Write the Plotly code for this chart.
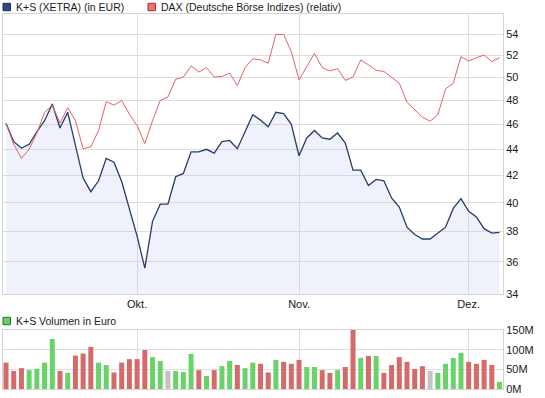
import plotly.graph_objects as go
import math

# ---- data ----
ks_price = [46.1, 44.6, 44.1, 44.4, 45.4, 46.3, 47.7, 45.7, 47.0, 44.2,
            41.8, 40.8, 41.6, 43.3, 43.0, 41.55, 39.6, 37.7, 35.6, 38.7,
            39.9, 39.9, 41.9, 42.15, 43.8, 43.8, 44.0, 43.7, 44.6, 44.7,
            44.05, 45.4, 46.8, 46.35, 45.8, 47.0, 46.9, 46.0, 43.5, 44.9,
            45.5, 44.9, 44.8, 45.3, 44.5, 42.4, 42.4, 41.25, 41.7, 41.6,
            40.35, 39.7, 38.3, 37.8, 37.5, 37.5, 37.9, 38.3, 39.6, 40.3,
            39.4, 39.0, 38.2, 37.9, 37.95]

dax_rel = [46.1, 44.4, 43.3, 44.0, 45.3, 47.0, 47.6, 46.1, 47.4, 46.3,
           44.05, 44.2, 45.5, 47.9, 47.6, 48.0, 46.85, 45.9, 44.45, 46.3,
           48.0, 48.3, 49.85, 50.05, 51.05, 50.5, 50.9, 50.05, 50.1, 50.4,
           49.3, 50.9, 51.7, 51.6, 51.3, 54.0, 54.0, 52.35, 49.8, 51.0,
           52.2, 50.9, 50.6, 50.8, 49.75, 50.05, 51.6, 51.15, 50.65, 50.55,
           50.0, 49.5, 47.85, 47.2, 46.6, 46.25, 46.8, 49.0, 49.5, 51.9,
           51.5, 51.8, 52.05, 51.45, 51.8]

volume_m = [67, 46, 53, 48, 51, 67, 127, 46, 41, 85,
            90, 107, 67, 61, 42, 67, 76, 76, 99, 81,
            71, 46, 46, 43, 89, 48, 33, 48, 58, 71,
            61, 53, 67, 64, 42, 74, 69, 64, 74, 56,
            56, 48, 41, 48, 56, 150, 79, 84, 84, 41,
            61, 81, 69, 51, 58, 46, 41, 64, 79, 92,
            69, 64, 74, 61, 18]

# r = down day, g = up day, n = unchanged
volume_dir = list("rrrggggrgrrrggrrrrrggnggg" "rgrggrggrrg" "rrrggrrgrrgrgrrrrrrnggggrrrrg")

month_ticks = [17, 38, 60]
month_labels = ["Okt.", "Nov.", "Dez."]
price_ticks = [34, 36, 38, 40, 42, 44, 46, 48, 50, 52, 54]
price_range = (34, 56)
vol_ticks = [0, 50, 100, 150]
vol_labels = ["0M", "50M", "100M", "150M"]

days = list(range(len(ks_price)))

# ---- styles ----
W, H = 545, 398
ML, MR, MT, MB = 3, 42, 14, 9
PW, PH = W - ML - MR, H - MT - MB
FONT = "Liberation Sans"
GRID = "#dedede"
NAVY = "#253c6b"
RED = "#e06464"
BAR_COL = {"r": "#d46a6a", "g": "#6ad26a", "n": "#c2c2c2"}

def px_x(x):
    return (x - ML) / PW

def px_y(y):
    return (H - MB - y) / PH

top_dom = [px_y(294), 1.0]
bot_dom = [0.0, px_y(330)]
xr = [-0.39, 64.45]

fig = go.Figure()

# baseline for the area fill (bottom of axis)
fig.add_trace(go.Scatter(x=days, y=[price_range[0]] * len(days), mode="lines",
                         line=dict(width=0), hoverinfo="skip", showlegend=False,
                         xaxis="x", yaxis="y"))
fig.add_trace(go.Scatter(x=days, y=ks_price, mode="lines", fill="tonexty",
                         fillcolor="rgba(180,195,232,0.22)",
                         line=dict(color=NAVY, width=1.3), name="K+S (XETRA) (in EUR)",
                         showlegend=False, xaxis="x", yaxis="y"))
fig.add_trace(go.Scatter(x=days, y=dax_rel, mode="lines",
                         line=dict(color=RED, width=1), name="DAX (Deutsche Börse Indizes) (relativ)",
                         showlegend=False, xaxis="x", yaxis="y"))
fig.add_trace(go.Bar(x=days, y=[v * 1e6 for v in volume_m],
                     marker=dict(color=[BAR_COL[d] for d in volume_dir], line=dict(width=0)),
                     showlegend=False, xaxis="x2", yaxis="y2"))

axis_common = dict(showgrid=True, gridcolor=GRID, gridwidth=1, zeroline=False,
                   showline=True, linecolor="#d4d4d4", linewidth=1, mirror=True,
                   ticks="", tickfont=dict(family=FONT, size=11, color="#1a1a1a"))

fig.update_layout(
    width=W, height=H,
    margin=dict(l=ML, r=MR, t=MT, b=MB),
    paper_bgcolor="white", plot_bgcolor="white",
    bargap=0.35,
    xaxis=dict(domain=[0, 1], range=xr, tickvals=month_ticks, ticktext=month_labels,
               anchor="y", **axis_common),
    yaxis=dict(domain=top_dom, type="log",
               range=[math.log10(price_range[0]), math.log10(price_range[1])],
               tickvals=price_ticks, ticktext=[str(v) for v in price_ticks],
               side="right", anchor="x", **axis_common),
    xaxis2=dict(domain=[0, 1], range=xr, tickvals=month_ticks, showticklabels=False,
                anchor="y2", **axis_common),
    yaxis2=dict(domain=bot_dom, range=[0, 150e6], tickvals=[v * 1e6 for v in vol_ticks],
                ticktext=vol_labels, side="right", anchor="x2", **axis_common),
)

def legend_item(x0, yc, fill, border, text):
    fig.add_shape(type="rect", xref="paper", yref="paper",
                  x0=px_x(x0), x1=px_x(x0 + 7.5), y0=px_y(yc + 3.7), y1=px_y(yc - 3.7),
                  fillcolor=fill, line=dict(color=border, width=1))
    fig.add_annotation(xref="paper", yref="paper", x=px_x(x0 + 11), y=px_y(yc),
                       text=text, showarrow=False, xanchor="left", yanchor="middle",
                       font=dict(family=FONT, size=10.5, color="#1a1a1a"))

legend_item(3, 7, "#2e4a80", "#1c2c50", "K+S (XETRA) (in EUR)")
legend_item(148, 7, "#f07070", "#a03030", "DAX (Deutsche Börse Indizes) (relativ)")
legend_item(3, 321, "#66d066", "#2c6a2c", "K+S Volumen in Euro")

fig.write_html("out.html", config={"displayModeBar": False},
               post_script="document.body.style.margin='0';document.body.style.padding='0';")
